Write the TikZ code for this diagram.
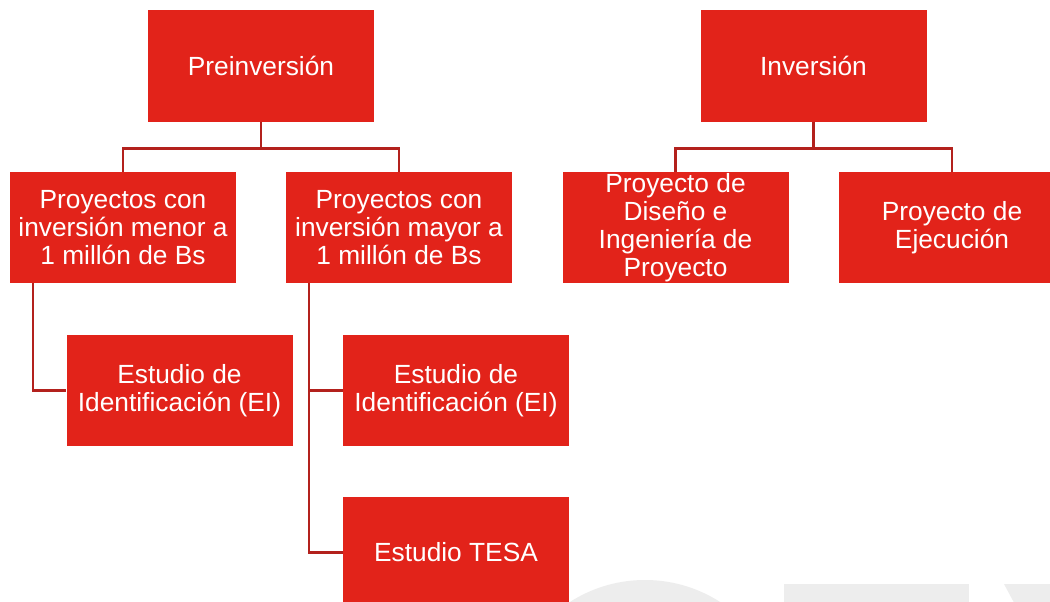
\documentclass[tikz,border=0pt]{standalone}
\usepackage{fontspec}
\setmainfont{Liberation Sans}
\definecolor{boxred}{HTML}{E2231A}
\definecolor{linered}{HTML}{B3211D}
\definecolor{wm}{HTML}{EDEDED}
\begin{document}
\begin{tikzpicture}[x=1pt,y=1pt,
  box/.style={rectangle, fill=boxred, text=white, minimum width=226pt, minimum height=111pt,
    inner sep=0pt, align=center, font=\fontsize{26.3}{27.8}\selectfont},
  conn/.style={draw=linered, line width=2.6pt}]
\useasboundingbox (0,0) rectangle (1050,-602);
\fill[white] (0,0) rectangle (1050,-602);
% watermark fragments
\begin{scope}
\clip (0,0) rectangle (1050,-602);
\fill[wm] (645,-719) circle (139);
\fill[wm] (784,-584) rectangle (969,-610);
\fill[wm] (1004,-584) -- (1050,-584) -- (1050,-610) -- (1018,-610) -- cycle;
\end{scope}
\node[box] (pre) at (261,-66) {Preinversión};
\node[box] (inv) at (813.5,-66) {Inversión};
\node[box] (pm) at (123,-227.5) {Proyectos con\\inversión menor a\\1 millón de Bs};
\node[box] (pM) at (399,-227.5) {Proyectos con\\inversión mayor a\\1 millón de Bs};
\node[box] (dis) at (675.5,-227.5) {Proyecto de\\Diseño e\\Ingeniería de\\Proyecto};
\node[box] (eje) at (952,-227.5) {Proyecto de\\Ejecución};
\node[box] (ei1) at (179.5,-390.5) {Estudio de\\Identificación (EI)};
\node[box] (ei2) at (456,-390.5) {Estudio de\\Identificación (EI)};
\node[box] (tesa) at (456,-552.5) {Estudio TESA};
\draw[conn] (pre.south) -- ++(0,-27) -| (pm.north);
\draw[conn] (pre.south) -- ++(0,-27) -| (pM.north);
\draw[conn] (inv.south) -- ++(0,-27) -| (dis.north);
\draw[conn] (inv.south) -- ++(0,-27) -| (eje.north);
\draw[conn] ([xshift=23pt]pm.south west) |- (ei1.west);
\draw[conn] ([xshift=23pt]pM.south west) |- (ei2.west);
\draw[conn] ([xshift=23pt]pM.south west) |- (tesa.west);
\end{tikzpicture}
\end{document}
